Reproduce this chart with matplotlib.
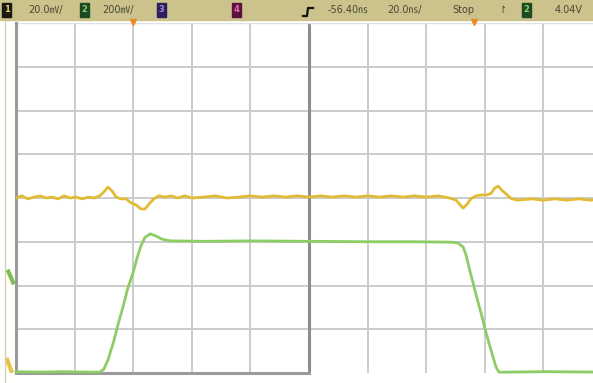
import matplotlib.pyplot as plt
from matplotlib.patches import Rectangle
from matplotlib.lines import Line2D

# screen is 10 x 8 divisions, time in div from left edge, level in div from centre
ch1_t = [0.00, 0.10, 0.20, 0.31, 0.41, 0.51, 0.61, 0.72, 0.82, 0.92, 1.02, 1.13,
         1.23, 1.33, 1.43, 1.50, 1.57, 1.64, 1.71, 1.79, 1.88, 1.96, 2.05, 2.13,
         2.20, 2.27, 2.35, 2.44, 2.54, 2.65, 2.76, 2.88, 3.00, 3.20, 3.40, 3.60,
         3.80, 4.00, 4.20, 4.40, 4.60, 4.80, 5.00, 5.20, 5.40, 5.60, 5.80, 6.00,
         6.20, 6.40, 6.60, 6.80, 7.00, 7.20, 7.40, 7.51, 7.58, 7.63, 7.70, 7.76,
         7.85, 7.95, 8.04, 8.11, 8.17, 8.23, 8.29, 8.38, 8.46, 8.57, 8.80, 9.00,
         9.20, 9.40, 9.60, 9.80, 10.00]
ch1_v = [0.00, 0.05, -0.02, 0.02, 0.05, 0.00, 0.02, -0.02, 0.05, 0.00, 0.02, -0.02,
         0.02, 0.00, 0.05, 0.14, 0.25, 0.16, 0.02, -0.02, -0.02, -0.11, -0.16, -0.25,
         -0.25, -0.14, -0.02, 0.05, 0.02, 0.05, 0.00, 0.05, 0.00, 0.02, 0.05, 0.00,
         0.02, 0.05, 0.02, 0.05, 0.02, 0.05, 0.02, 0.05, 0.02, 0.05, 0.02, 0.05,
         0.02, 0.05, 0.02, 0.05, 0.02, 0.05, 0.00, -0.05, -0.16, -0.23, -0.14, -0.02,
         0.05, 0.07, 0.07, 0.11, 0.23, 0.27, 0.18, 0.07, -0.02, -0.05, -0.02, -0.05,
         -0.02, -0.05, -0.02, -0.05, -0.02]

ch2_t = [0.00, 0.40, 0.80, 1.20, 1.43, 1.50, 1.57, 1.66, 1.74, 1.83, 1.91, 2.00,
         2.06, 2.13, 2.20, 2.29, 2.39, 2.49, 2.63, 3.20, 4.00, 5.00, 6.00, 6.80,
         7.44, 7.54, 7.63, 7.68, 7.73, 7.80, 7.87, 7.94, 8.00, 8.07, 8.14, 8.19,
         8.24, 8.40, 9.00, 10.00]
ch2_v = [-3.97, -3.98, -3.97, -3.98, -3.98, -3.91, -3.70, -3.31, -2.90, -2.47, -2.05, -1.70,
         -1.40, -1.10, -0.90, -0.82, -0.87, -0.94, -0.98, -0.99, -0.98, -0.99, -1.00, -1.00,
         -1.01, -1.03, -1.12, -1.30, -1.58, -1.94, -2.31, -2.65, -2.97, -3.31, -3.63, -3.86,
         -3.98, -3.98, -3.97, -3.98]

W, H = 593, 383
def px(x):
    return x / W
def py(y):
    return 1 - y / H

fig = plt.figure(figsize=(5.93, 3.83), dpi=100)
ax = fig.add_axes([px(16), py(373), 586 / W, 350 / H])
ax.set_xlim(0, 10)
ax.set_ylim(-4, 4)
ax.set_xticks([])
ax.set_yticks([])

for t in range(1, 10):
    if t == 5:
        ax.axvline(t, color='#8c8c8c', lw=2.2, zorder=2)
    else:
        ax.axvline(t, color='#cbcbcb', lw=1.4, zorder=1)
for v in range(-3, 4):
    ax.axhline(v, color='#cbcbcb', lw=1.4, zorder=1)

for s in ['top', 'right', 'bottom']:
    ax.spines[s].set_visible(False)
ax.spines['left'].set_color('#9a9a9a')
ax.spines['left'].set_linewidth(2.2)
ax.plot([0, 5], [-4, -4], color='#9a9a9a', lw=2.2, clip_on=False, zorder=2)
ax.axhline(4, color='#e0e0e0', lw=1)

ax.plot(ch2_t, ch2_v, color='#8ccd66', lw=2, zorder=4, clip_on=False)
ax.plot(ch1_t, ch1_v, color='#e2bb35', lw=2, zorder=5)

# ground markers at left edge
ax.plot([-0.13, -0.05], [-1.68, -1.93], color='#7cc050', lw=3, clip_on=False)
ax.plot([-0.15, -0.08], [-3.7, -3.95], color='#e8c440', lw=3, clip_on=False)
# trigger markers at top
ax.plot([2.0, 7.82], [4.02, 4.02], 'v', color='#f08a22', ms=5, clip_on=False, zorder=6)

# screen margin line
fig.add_artist(Line2D([px(5), px(5)], [py(20), py(383)], color='#d9d0b4', lw=1))

# status bar
fig.add_artist(Rectangle((0, py(20)), 1, 20 / H, color='#cbc38b', zorder=0))
fs = 7
fam = ['DejaVu Sans', 'Noto Sans CJK JP']
bar_y = py(10)
boxes = [(2, '1', '#1a1a10', '#e8d060'), (80, '2', '#1d4a22', '#88d070'),
         (157, '3', '#2c1f5c', '#a090e0'), (232, '4', '#5c1040', '#e070b0'),
         (522, '2', '#1d4a22', '#88d070')]
for x0, lab, bg, fg in boxes:
    fig.add_artist(Rectangle((px(x0), py(17)), 9 / W, 14 / H, color=bg, zorder=1))
    fig.text(px(x0 + 4.5), bar_y, lab, color=fg, fontsize=6, ha='center', va='center',
             fontweight='bold')
labels = [(28, '20.0\u33b7/'), (102, '200\u33b7/'), (328, '-56.40\u33b1'),
          (387, '20.0\u33b1/'), (452, 'Stop'), (555, '4.04V')]
for x0, s in labels:
    fig.text(px(x0), bar_y, s, color='#4a4838', fontsize=fs, ha='left', va='center',
             family=fam)
fig.text(px(502), bar_y, '\u21be', color='#4a4838', fontsize=fs, ha='center', va='center')
# trigger edge icon
fig.add_artist(Line2D([px(303), px(307), px(308), px(313)],
                      [py(16), py(16), py(8), py(8)], color='#111111', lw=1.6))

fig.savefig('out.png', dpi=100, facecolor='white')
